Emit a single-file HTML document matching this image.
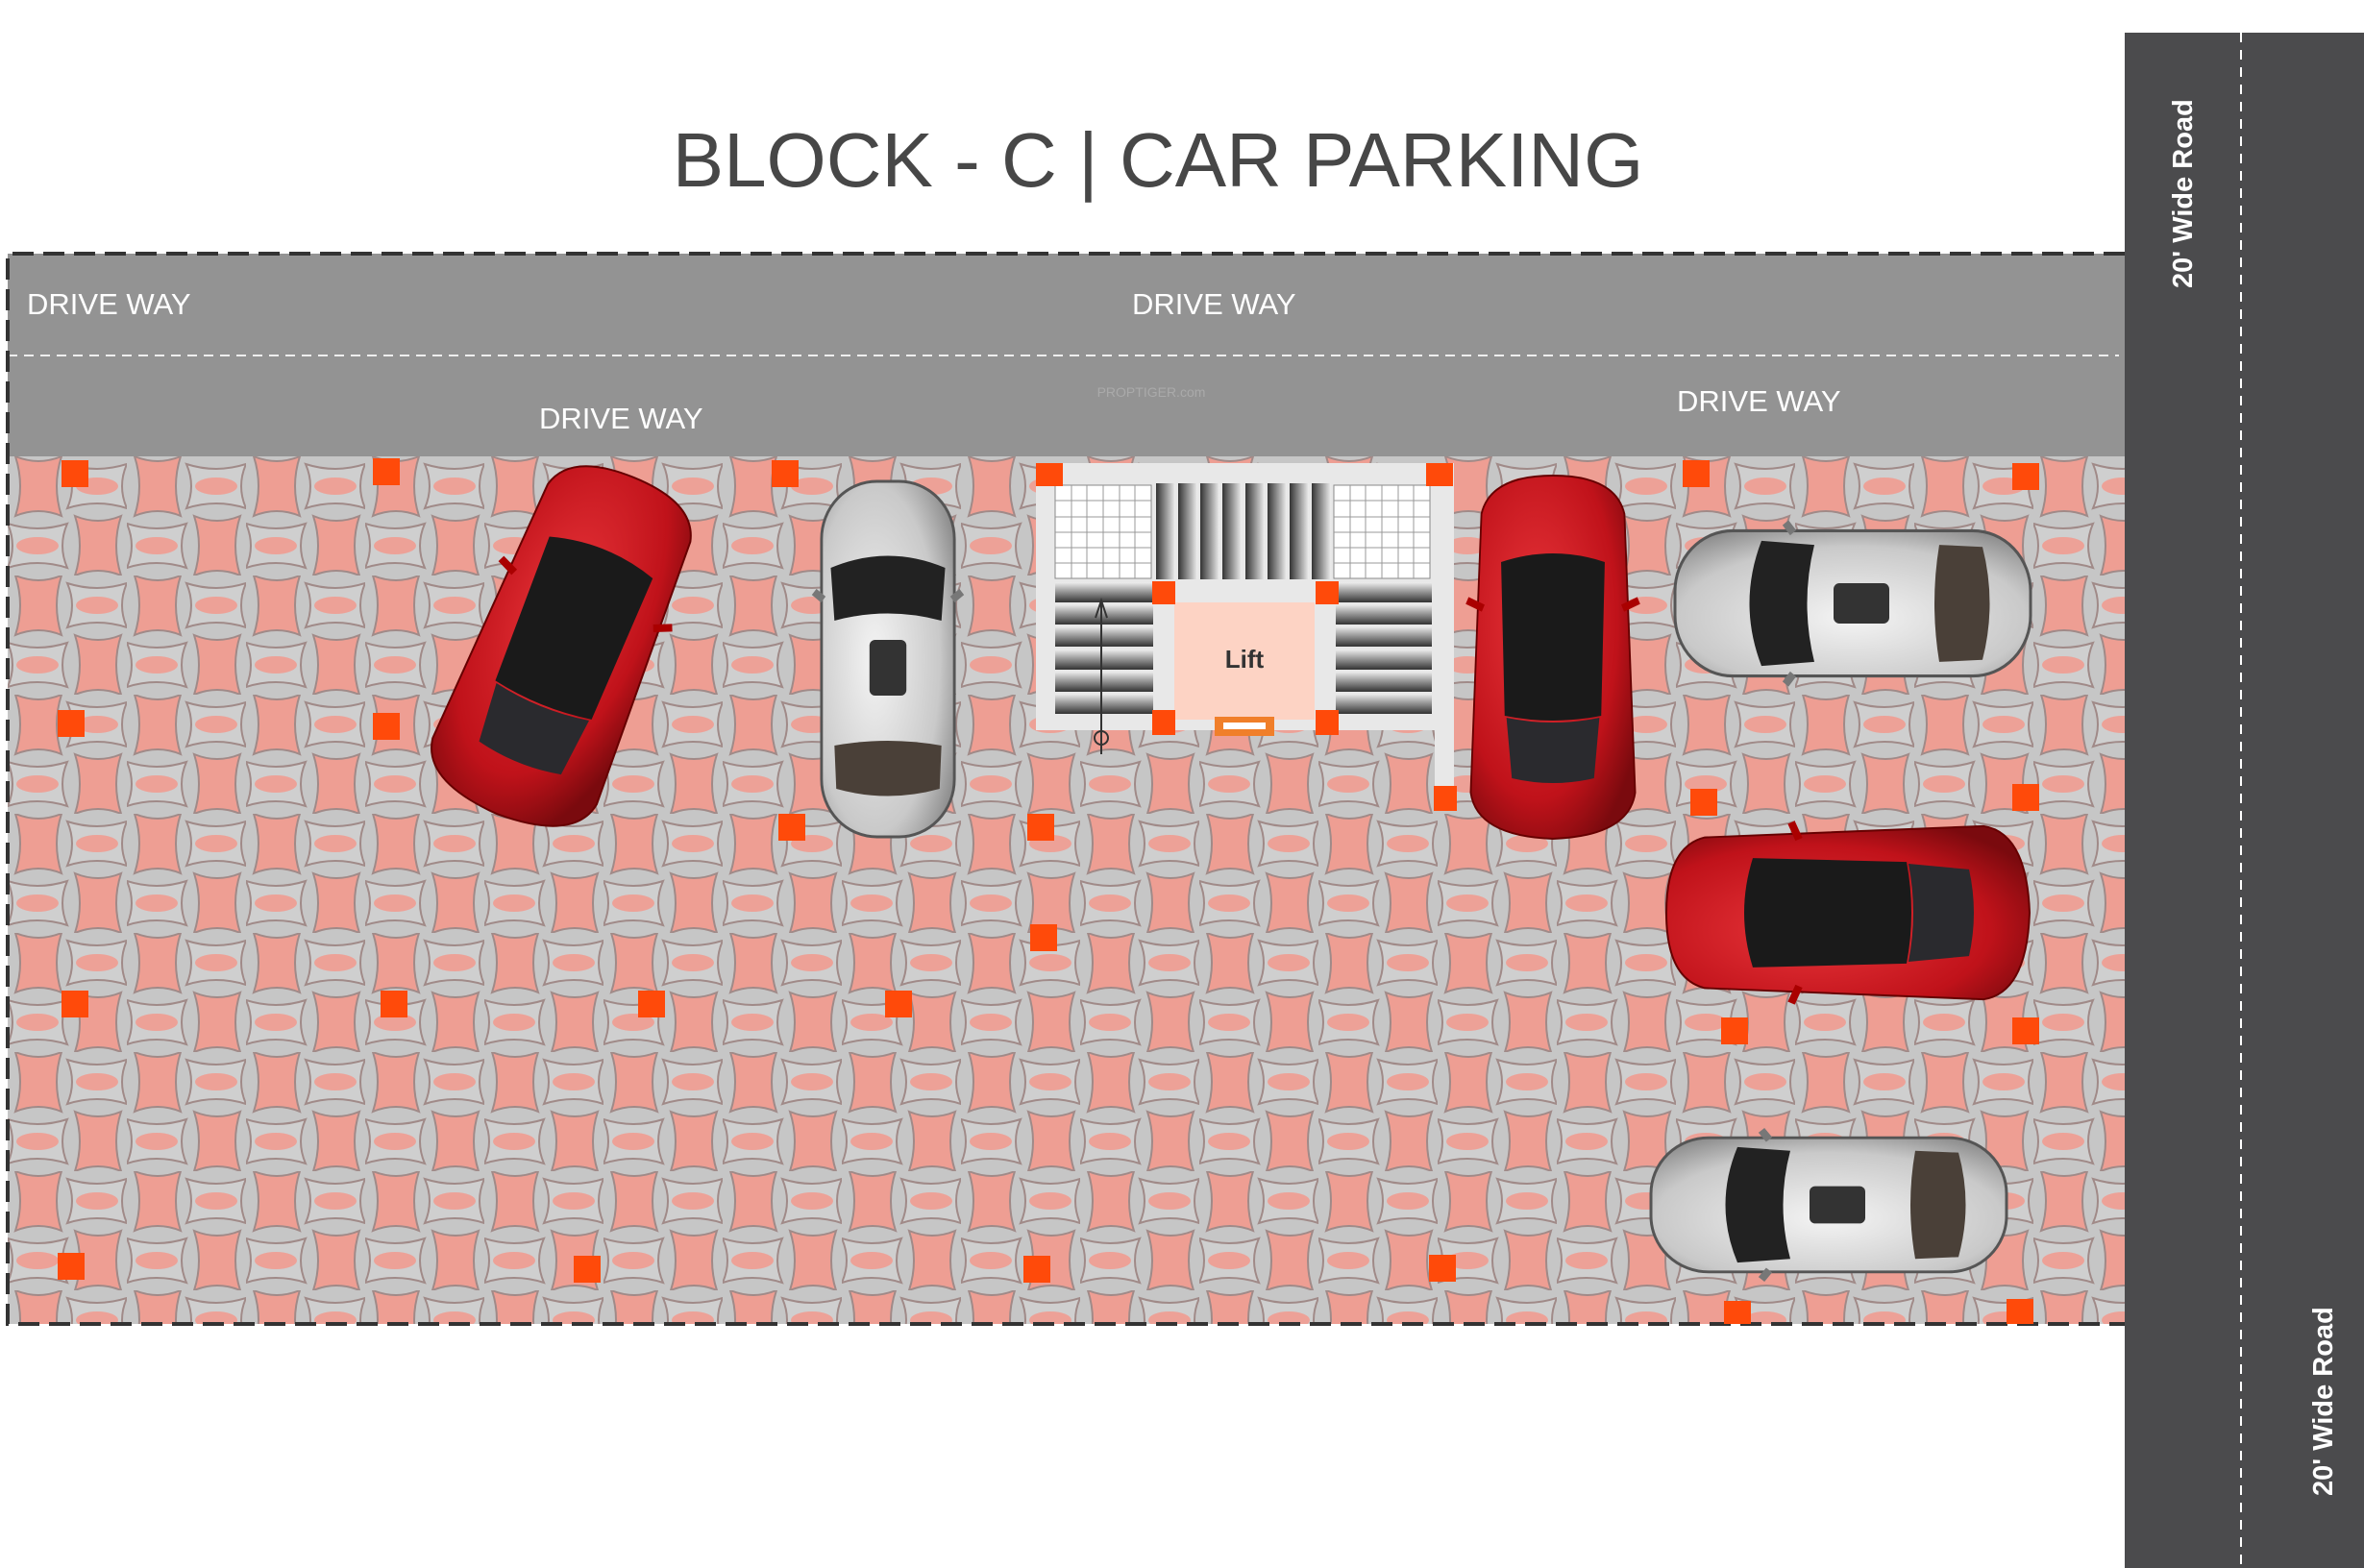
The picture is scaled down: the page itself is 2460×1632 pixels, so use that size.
<!DOCTYPE html>
<html><head><meta charset="utf-8"><style>
html,body{margin:0;padding:0;background:#fff;}
svg{display:block;}
</style></head><body>
<svg width="2460" height="1632" viewBox="0 0 2460 1632" xmlns="http://www.w3.org/2000/svg">
<defs>
<pattern id="pave" x="8" y="475" width="124" height="124" patternUnits="userSpaceOnUse">
<rect width="124" height="124" fill="#c6c6c6"/>
<path d="M8 0 Q32 10 56 0 Q46 31 56 62 Q32 52 8 62 Q18 31 8 0Z" fill="#ee9e93" stroke="#a08a88" stroke-width="2"/>
<path d="M70 62 Q94 72 118 62 Q108 93 118 124 Q94 114 70 124 Q80 93 70 62Z" fill="#ee9e93" stroke="#a08a88" stroke-width="2"/>
<path d="M62 8 Q72 31 62 54 Q93 44 124 54 Q114 31 124 8 Q93 18 62 8Z" fill="#cfcfcf" stroke="#a08a88" stroke-width="2"/>
<path d="M0 70 Q10 93 0 116 Q31 106 62 116 Q52 93 62 70 Q31 80 0 70Z" fill="#cfcfcf" stroke="#a08a88" stroke-width="2"/>
<ellipse cx="93" cy="31" rx="22" ry="9" fill="#eda197"/>
<ellipse cx="31" cy="93" rx="22" ry="9" fill="#eda197"/>
</pattern>
<linearGradient id="stepH" x1="0" y1="0" x2="0" y2="1"><stop offset="0" stop-color="#eee"/><stop offset="1" stop-color="#333"/></linearGradient>
<linearGradient id="stepV" x1="0" y1="0" x2="1" y2="0"><stop offset="0" stop-color="#333"/><stop offset="1" stop-color="#eee"/></linearGradient>
<radialGradient id="silver" cx="0.4" cy="0.5" r="0.7"><stop offset="0" stop-color="#f4f4f4"/><stop offset="0.7" stop-color="#c9c9c9"/><stop offset="1" stop-color="#8a8a8a"/></radialGradient>
<radialGradient id="red" cx="0.4" cy="0.4" r="0.7"><stop offset="0" stop-color="#e8353a"/><stop offset="0.7" stop-color="#c0121a"/><stop offset="1" stop-color="#7a0a0e"/></radialGradient>
<g id="silvercar">
<rect x="-72" y="-185" width="144" height="370" rx="60" fill="url(#silver)" stroke="#555" stroke-width="3"/>
<path d="M-62 -95 Q0 -120 62 -95 L58 -40 Q0 -55 -58 -40Z" fill="#222"/>
<rect x="-20" y="-20" width="40" height="58" rx="6" fill="#333"/>
<path d="M-58 90 Q0 80 58 90 L56 135 Q0 150 -56 135Z" fill="#4a4038"/>
<path d="M-80 -70 L-70 -62 M80 -70 L70 -62" stroke="#777" stroke-width="8"/>
</g>
<g id="redcar">
<path d="M-80 -150 Q-70 -190 0 -190 Q70 -190 80 -150 L92 140 Q85 185 0 188 Q-85 185 -92 140Z" fill="url(#red)" stroke="#600" stroke-width="2"/>
<path d="M-58 -100 Q0 -118 58 -100 L54 60 Q0 70 -54 60Z" fill="#1a1a1a"/>
<path d="M-52 62 Q0 72 52 62 L46 125 Q0 135 -46 125Z" fill="#2a2a2e"/>
<path d="M-96 -60 L-78 -52 M96 -60 L78 -52" stroke="#a00" stroke-width="8"/>
</g>
</defs>

<text x="1205" y="194" text-anchor="middle" font-family="Liberation Sans, sans-serif" font-size="80" fill="#474747">BLOCK - C  |  CAR PARKING</text>

<rect x="2211" y="34" width="249" height="1598" fill="#4b4b4d"/>
<line x1="2332" y1="34" x2="2332" y2="1632" stroke="#fff" stroke-width="2" stroke-dasharray="10 8"/>
<text transform="translate(2281,300) rotate(-90)" font-family="Liberation Sans, sans-serif" font-weight="bold" font-size="29" fill="#fff">20' Wide Road</text>
<text transform="translate(2427,1557) rotate(-90)" font-family="Liberation Sans, sans-serif" font-weight="bold" font-size="29" fill="#fff">20' Wide Road</text>

<rect x="8" y="264" width="2203" height="211" fill="#939393"/>
<line x1="8" y1="370" x2="2205" y2="370" stroke="#eee" stroke-width="2" stroke-dasharray="10 7"/>
<g font-family="Liberation Sans, sans-serif" font-size="31" fill="#fff">
<text x="28" y="327">DRIVE WAY</text>
<text x="1178" y="327">DRIVE WAY</text>
<text x="561" y="446">DRIVE WAY</text>
<text x="1745" y="428">DRIVE WAY</text>
</g>
<text x="1198" y="413" text-anchor="middle" font-family="Liberation Sans, sans-serif" font-size="14" fill="#aaa">PROPTIGER.com</text>

<rect x="8" y="475" width="2203" height="903" fill="url(#pave)"/>

<path d="M2211 264 L8 264 L8 1378 L2211 1378" fill="none" stroke="#333" stroke-width="4" stroke-dasharray="22 10"/>

<rect x="1078" y="482" width="435" height="278" fill="#e8e8e8"/>
<rect x="1493" y="482" width="20" height="350" fill="#e8e8e8"/>
<rect x="1098" y="505" width="100" height="97" fill="#fff" stroke="#888" stroke-width="1"/>
<path d="M1115 505V602M1131 505V602M1148 505V602M1165 505V602M1181 505V602M1098 521H1198M1098 538H1198M1098 554H1198M1098 570H1198M1098 586H1198" stroke="#999" stroke-width="1"/>
<rect x="1388" y="505" width="100" height="97" fill="#fff" stroke="#888" stroke-width="1"/>
<path d="M1405 505V602M1421 505V602M1438 505V602M1455 505V602M1471 505V602M1388 521H1488M1388 538H1488M1388 554H1488M1388 570H1488M1388 586H1488" stroke="#999" stroke-width="1"/>
<g>
<rect x="1203" y="503" width="20" height="100" fill="url(#stepV)"/><rect x="1226" y="503" width="20" height="100" fill="url(#stepV)"/><rect x="1249" y="503" width="20" height="100" fill="url(#stepV)"/><rect x="1272" y="503" width="20" height="100" fill="url(#stepV)"/><rect x="1296" y="503" width="20" height="100" fill="url(#stepV)"/><rect x="1319" y="503" width="20" height="100" fill="url(#stepV)"/><rect x="1342" y="503" width="20" height="100" fill="url(#stepV)"/><rect x="1365" y="503" width="20" height="100" fill="url(#stepV)"/>
</g>
<g>
<rect x="1098" y="606" width="102" height="21" fill="url(#stepH)"/><rect x="1098" y="629" width="102" height="21" fill="url(#stepH)"/><rect x="1098" y="652" width="102" height="21" fill="url(#stepH)"/><rect x="1098" y="676" width="102" height="21" fill="url(#stepH)"/><rect x="1098" y="699" width="102" height="21" fill="url(#stepH)"/><rect x="1098" y="722" width="102" height="21" fill="url(#stepH)"/>
<rect x="1390" y="606" width="100" height="21" fill="url(#stepH)"/><rect x="1390" y="629" width="100" height="21" fill="url(#stepH)"/><rect x="1390" y="652" width="100" height="21" fill="url(#stepH)"/><rect x="1390" y="676" width="100" height="21" fill="url(#stepH)"/><rect x="1390" y="699" width="100" height="21" fill="url(#stepH)"/><rect x="1390" y="722" width="100" height="21" fill="url(#stepH)"/>
</g>
<path d="M1146 785 V625 M1140 643 L1146 625 L1152 643" stroke="#333" stroke-width="2" fill="none"/>
<circle cx="1146" cy="768" r="7" fill="none" stroke="#333" stroke-width="2"/>
<rect x="1222" y="627" width="146" height="122" fill="#fdd3c4"/>
<text x="1295" y="695" text-anchor="middle" font-family="Liberation Sans, sans-serif" font-weight="bold" font-size="26" fill="#333">Lift</text>
<rect x="1264" y="746" width="62" height="20" fill="#f07f2a"/>
<rect x="1273" y="752" width="44" height="7" fill="#fff"/>

<g fill="#ff4a0a">
<rect x="1078" y="482" width="28" height="24"/><rect x="1484" y="482" width="28" height="24"/>
<rect x="1199" y="605" width="24" height="24"/><rect x="1369" y="605" width="24" height="24"/>
<rect x="1199" y="739" width="24" height="26"/><rect x="1369" y="739" width="24" height="26"/>
<rect x="1492" y="818" width="24" height="26"/>
<rect x="64" y="479" width="28" height="28"/><rect x="388" y="477" width="28" height="28"/><rect x="803" y="479" width="28" height="28"/><rect x="1751" y="479" width="28" height="28"/><rect x="2094" y="482" width="28" height="28"/>
<rect x="60" y="739" width="28" height="28"/><rect x="388" y="742" width="28" height="28"/>
<rect x="810" y="847" width="28" height="28"/><rect x="1069" y="847" width="28" height="28"/><rect x="1759" y="821" width="28" height="28"/><rect x="2094" y="816" width="28" height="28"/>
<rect x="1072" y="962" width="28" height="28"/>
<rect x="64" y="1031" width="28" height="28"/><rect x="396" y="1031" width="28" height="28"/><rect x="664" y="1031" width="28" height="28"/><rect x="921" y="1031" width="28" height="28"/>
<rect x="1791" y="1059" width="28" height="28"/><rect x="2094" y="1059" width="28" height="28"/>
<rect x="60" y="1304" width="28" height="28"/><rect x="597" y="1307" width="28" height="28"/><rect x="1065" y="1307" width="28" height="28"/><rect x="1487" y="1306" width="28" height="28"/>
<rect x="1794" y="1354" width="28" height="24"/><rect x="2088" y="1352" width="28" height="26"/>
</g>

<use href="#redcar" transform="translate(588,673) rotate(22)"/>
<use href="#silvercar" transform="translate(924,686) scale(0.96,1)"/>
<use href="#redcar" transform="translate(1616,685) scale(0.93,1)"/>
<use href="#silvercar" transform="translate(1928,628) rotate(-90) scale(1.05,1)"/>
<use href="#redcar" transform="translate(1924,950) rotate(-90) scale(0.98,1)"/>
<use href="#silvercar" transform="translate(1903,1254) rotate(-90) scale(0.97,1)"/>
</svg>
</body></html>
